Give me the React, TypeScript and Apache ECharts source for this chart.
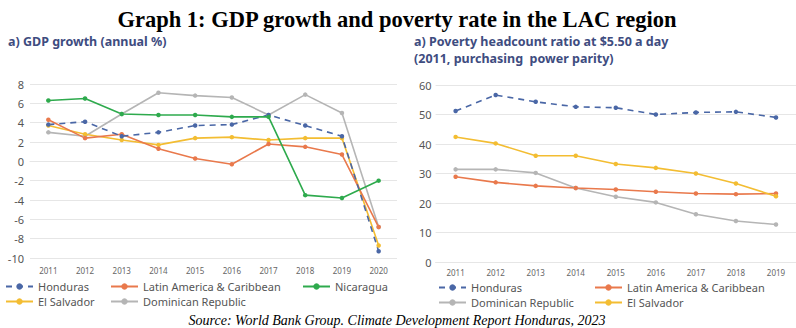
import React, { useEffect, useRef } from "react";
import * as echarts from "echarts";

const gdpYears = ["2011", "2012", "2013", "2014", "2015", "2016", "2017", "2018", "2019", "2020"];
const gdpHonduras = [3.8, 4.1, 2.6, 3.0, 3.7, 3.8, 4.8, 3.7, 2.6, -9.3];
const gdpLAC = [4.3, 2.4, 2.8, 1.3, 0.3, -0.3, 1.8, 1.5, 0.7, -6.8];
const gdpNicaragua = [6.3, 6.5, 4.9, 4.8, 4.8, 4.6, 4.6, -3.5, -3.8, -2.0];
const gdpElSalvador = [3.7, 2.8, 2.2, 1.7, 2.4, 2.5, 2.2, 2.4, 2.4, -8.7];
const gdpDominican = [3.0, 2.6, 4.9, 7.1, 6.8, 6.6, 4.8, 6.9, 5.0, -6.8];

const povYears = ["2011", "2012", "2013", "2014", "2015", "2016", "2017", "2018", "2019"];
const povHonduras = [51.2, 56.6, 54.3, 52.6, 52.3, 50.0, 50.7, 50.9, 49.0];
const povLAC = [28.9, 27.0, 25.8, 25.1, 24.6, 23.8, 23.2, 23.0, 23.2];
const povDominican = [31.4, 31.4, 30.2, 25.1, 22.1, 20.2, 16.2, 13.9, 12.7];
const povElSalvador = [42.4, 40.2, 36.0, 36.0, 33.2, 31.9, 30.0, 26.6, 22.3];

const C_BLUE = "#4a67a6";
const C_ORANGE = "#e9794c";
const C_GREEN = "#2eaa4d";
const C_YELLOW = "#f3bd32";
const C_GRAY = "#b5b5b5";

const FONT = "'Noto Sans', sans-serif";

function lineSeries(name: string, data: number[], color: string, axis: number, dashed = false) {
  return {
    type: "line",
    name,
    data,
    xAxisIndex: axis,
    yAxisIndex: axis,
    symbol: "circle",
    symbolSize: 4.5,
    showSymbol: true,
    itemStyle: { color },
    lineStyle: { color, width: 1.6, type: dashed ? [6, 5] : "solid" },
  };
}

function legendItem(name: string, left: number, top: number) {
  return {
    data: [name],
    left,
    top,
    orient: "horizontal",
    itemWidth: 27,
    itemHeight: 8,
    itemGap: 0,
    padding: 0,
    selectedMode: false,
    textStyle: { fontFamily: FONT, fontSize: 11, color: "#555" },
  };
}

export default function App() {
  const ref = useRef<HTMLDivElement>(null);
  useEffect(() => {
    if (!ref.current) return;
    const chart = echarts.init(ref.current, null, { renderer: "svg" });
    const subStyle = { fontFamily: FONT, fontSize: 12.5, fontWeight: "bold", fill: "#3e4c80" };
    chart.setOption({
      animation: false,
      backgroundColor: "#ffffff",
      graphic: [
        {
          type: "text",
          x: 397,
          y: 19.5,
          style: {
            text: "Graph 1: GDP growth and poverty rate in the LAC region",
            fontFamily: "'Liberation Serif', serif",
            fontWeight: "bold",
            fontSize: 22.5,
            fill: "#000",
            align: "center",
            verticalAlign: "middle",
          },
        },
        { type: "text", x: 8, y: 41, style: { ...subStyle, text: "a) GDP growth (annual %)", verticalAlign: "middle" } },
        { type: "text", x: 414, y: 41, style: { ...subStyle, text: "a) Poverty headcount ratio at $5.50 a day", verticalAlign: "middle" } },
        { type: "text", x: 414, y: 58, style: { ...subStyle, text: "(2011, purchasing  power parity)", verticalAlign: "middle" } },
        {
          type: "text",
          x: 397,
          y: 320,
          style: {
            text: "Source: World Bank Group. Climate Development Report Honduras, 2023",
            fontFamily: "'Liberation Serif', serif",
            fontStyle: "italic",
            fontSize: 14,
            fill: "#000",
            align: "center",
            verticalAlign: "middle",
          },
        },
      ],
      legend: [
        legendItem("Honduras", 5, 281),
        legendItem("Latin America & Caribbean", 110, 281),
        legendItem("Nicaragua", 302, 281),
        legendItem("El Salvador", 5, 296),
        legendItem("Dominican Republic", 110, 296),
        legendItem("Honduras", 438, 282),
        legendItem("Latin America & Caribbean", 594, 282),
        legendItem("Dominican Republic", 438, 297),
        legendItem("El Salvador", 594, 297),
      ],
      grid: [
        { left: 30, width: 367, top: 84, height: 174 },
        { left: 435.6, width: 370.8, top: 85, height: 177 },
      ],
      xAxis: [
        {
          type: "category",
          gridIndex: 0,
          data: gdpYears,
          boundaryGap: true,
          axisLine: { show: true, onZero: true, lineStyle: { color: "#e6e6e6" } },
          axisTick: { show: false },
          axisLabel: { fontFamily: FONT, fontSize: 8, color: "#666", margin: 8 },
        },
        {
          type: "category",
          gridIndex: 1,
          data: povYears,
          boundaryGap: true,
          axisLine: { show: true, lineStyle: { color: "#e6e6e6" } },
          axisTick: { show: false },
          axisLabel: { fontFamily: FONT, fontSize: 8, color: "#666", margin: 6 },
        },
      ],
      yAxis: [
        {
          type: "value",
          gridIndex: 0,
          min: -10,
          max: 8,
          interval: 2,
          axisLine: { show: false },
          axisTick: { show: false },
          splitLine: { lineStyle: { color: "#e6e6e6", width: 1 } },
          axisLabel: { fontFamily: FONT, fontSize: 11, color: "#555", margin: 6 },
        },
        {
          type: "value",
          gridIndex: 1,
          min: 0,
          max: 60,
          interval: 10,
          axisLine: { show: false },
          axisTick: { show: false },
          splitLine: { lineStyle: { color: "#e6e6e6", width: 1 } },
          axisLabel: { fontFamily: FONT, fontSize: 11, color: "#555", margin: 4 },
        },
      ],
      series: [
        lineSeries("Dominican Republic", gdpDominican, C_GRAY, 0),
        lineSeries("El Salvador", gdpElSalvador, C_YELLOW, 0),
        lineSeries("Latin America & Caribbean", gdpLAC, C_ORANGE, 0),
        lineSeries("Honduras", gdpHonduras, C_BLUE, 0, true),
        lineSeries("Nicaragua", gdpNicaragua, C_GREEN, 0),
        lineSeries("Dominican Republic", povDominican, C_GRAY, 1),
        lineSeries("Latin America & Caribbean", povLAC, C_ORANGE, 1),
        lineSeries("El Salvador", povElSalvador, C_YELLOW, 1),
        lineSeries("Honduras", povHonduras, C_BLUE, 1, true),
      ],
    });
    return () => chart.dispose();
  }, []);
  return <div ref={ref} style={{ position: "fixed", left: 0, top: 0, width: 796, height: 328 }} />;
}
